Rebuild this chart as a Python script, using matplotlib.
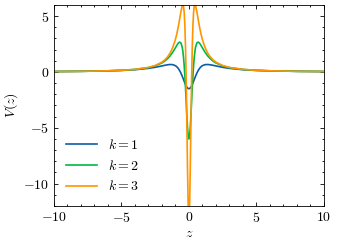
import matplotlib
matplotlib.use("Agg")
from matplotlib import pyplot as plt
from matplotlib.ticker import MultipleLocator

plt.rcParams.update({
    "font.family": "serif",
    "font.serif": ["cmr10"],
    "mathtext.fontset": "cm",
    "axes.formatter.use_mathtext": True,
    "font.size": 10,
    "axes.linewidth": 0.6,
    "xtick.direction": "in",
    "ytick.direction": "in",
    "xtick.top": True,
    "ytick.right": True,
    "xtick.major.size": 3,
    "ytick.major.size": 3,
    "xtick.minor.size": 1.5,
    "ytick.minor.size": 1.5,
    "xtick.major.width": 0.6,
    "ytick.major.width": 0.6,
    "xtick.minor.width": 0.6,
    "ytick.minor.width": 0.6,
})

# z >= 0 (curves are symmetric in z)
z_half = [0, 0.05, 0.1, 0.15, 0.2, 0.25, 0.3, 0.35, 0.4, 0.45, 0.5, 0.6, 0.7,
          0.8, 0.9, 1.0, 1.2, 1.4, 1.6, 1.8, 2.0, 2.5, 3, 4, 5, 6, 8, 10]

v_k1 = [-1.5, -1.483, -1.434, -1.354, -1.248, -1.121, -0.978, -0.826, -0.669,
        -0.512, -0.36, -0.081, 0.152, 0.335, 0.469, 0.5625, 0.655, 0.668,
        0.639, 0.592, 0.54, 0.417, 0.3225, 0.202, 0.136, 0.098, 0.056, 0.037]
v_k2 = [-6.0, -5.735, -4.993, -3.914, -2.675, -1.44, -0.324, 0.608, 1.338,
        1.877, 2.25, 2.62, 2.671, 2.556, 2.37, 2.16, 1.759, 1.428, 1.168,
        0.967, 0.81, 0.546, 0.39, 0.226, 0.146, 0.1025, 0.058, 0.037]
v_k3 = [-13.5, -12.186, -8.806, -4.61, -0.73, 2.246, 4.224, 5.364, 5.896,
        6.026, 5.911, 5.332, 4.624, 3.959, 3.384, 2.9025, 2.175, 1.675, 1.322,
        1.067, 0.878, 0.575, 0.405, 0.2305, 0.148, 0.103, 0.058, 0.037]

labels = ["$k=1$", "$k=2$", "$k=3$"]
colors = ["#0C5DA5", "#00B945", "#FF9500"]


def full(vals):
    return vals[:0:-1] + vals


z = [-v for v in z_half[:0:-1]] + z_half

fig = plt.figure(figsize=(3.37, 2.47), dpi=100)
ax = fig.add_axes([0.160, 0.166, 0.801, 0.814])

for vals, lab, c in zip([v_k1, v_k2, v_k3], labels, colors):
    ax.plot(z, full(vals), color=c, lw=1.2, label=lab)

ax.set_xlim(-10, 10)
ax.set_ylim(-12, 6)
ax.xaxis.set_major_locator(MultipleLocator(5))
ax.xaxis.set_minor_locator(MultipleLocator(1))
ax.yaxis.set_major_locator(MultipleLocator(5))
ax.yaxis.set_minor_locator(MultipleLocator(1))
ax.set_xlabel("$z$", labelpad=2)
ax.set_ylabel("$V(z)$", labelpad=2)
ax.legend(loc="lower left", frameon=False, handlelength=2.2)

fig.savefig("out.png", dpi=100)
